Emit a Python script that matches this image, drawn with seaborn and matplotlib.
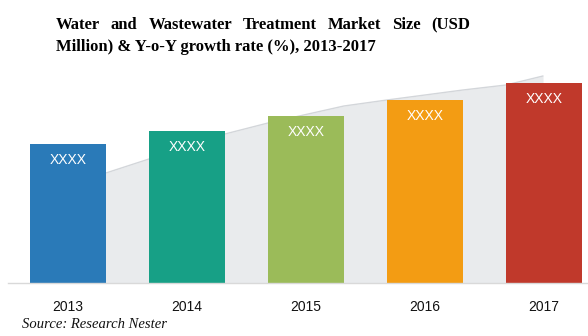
import matplotlib
matplotlib.use("Agg")
import matplotlib.pyplot as plt
import seaborn as sns
import pandas as pd

# ---- data ----
years = ["2013", "2014", "2015", "2016", "2017"]
market_size = [139, 152, 167, 183, 200]          # relative bar heights (values hidden as XXXX)
bar_labels = ["XXXX", "XXXX", "XXXX", "XXXX", "XXXX"]
growth_pos = [0.0, 0.319, 0.681, 1.319, 1.681, 2.319, 2.681, 3.319, 3.681, 3.992]
growth_area = [98, 110, 124, 149, 160, 177, 183, 193, 198, 207]
colors = ["#2A7AB8", "#17A086", "#9BBB59", "#F39C13", "#C0392B"]
title_line1 = "Water and Wastewater Treatment Market Size (USD"
title_line2 = "Million) & Y-o-Y growth rate (%), 2013-2017"
source = "Source: Research Nester"

W, H = 588, 336
sns.set_theme(style="white")
plt.rcParams["font.family"] = ["Liberation Sans", "DejaVu Sans"]

fig = plt.figure(figsize=(W / 100, H / 100), dpi=100)
fig.patch.set_facecolor("white")
ax = fig.add_axes([8 / W, (H - 283) / H, 580 / W, 223 / H])

df = pd.DataFrame({"year": years, "value": market_size})

# background growth wedge
ax.fill_between(growth_pos, 0, growth_area, color="#E9EBED", zorder=0, lw=0)
ax.plot(growth_pos, growth_area, color="#D3D6DA", lw=1, zorder=0.5)

sns.barplot(data=df, x="year", y="value", hue="year", palette=colors,
            width=0.639, legend=False, ax=ax, zorder=2, saturation=1,
            edgecolor="none", linewidth=0)

for i, (v, lab) in enumerate(zip(market_size, bar_labels)):
    ax.text(i, v - 16, lab, ha="center", va="center", color="white",
            fontsize=10, zorder=3)

ax.set_xlim(-0.504, 4.37)
ax.set_ylim(0, 223)
ax.set_xlabel("")
ax.set_ylabel("")
ax.set_yticks([])
for s in ["top", "right", "left"]:
    ax.spines[s].set_visible(False)
ax.spines["bottom"].set_color("#D9D9D9")
ax.spines["bottom"].set_linewidth(1)
ax.tick_params(axis="x", length=0, pad=12, labelsize=10, labelcolor="#111111")
ax.set_facecolor("none")

# title (first line justified)
tfont = dict(family=["Liberation Serif", "DejaVu Serif"], weight="bold", fontsize=12, color="#000000")
x0, x1 = 56, 470
y1 = H - 25
y2 = H - 47
words = title_line1.split(" ")
txts = [fig.text(0, y1 / H, w, ha="left", va="center", **tfont) for w in words]
fig.canvas.draw()
r = fig.canvas.get_renderer()
widths = [t.get_window_extent(r).width for t in txts]
gap = ((x1 - x0) - sum(widths)) / (len(words) - 1)
x = x0
for t, w in zip(txts, widths):
    t.set_x(x / W)
    x += w + gap
fig.text(x0 / W, y2 / H, title_line2, ha="left", va="center", **tfont)

fig.text(22 / W, (H - 325) / H, source, ha="left", va="center",
         family=["Liberation Serif", "DejaVu Serif"], style="italic",
         fontsize=10.5, color="#111111")

fig.savefig("out.png", dpi=100, facecolor="white")
